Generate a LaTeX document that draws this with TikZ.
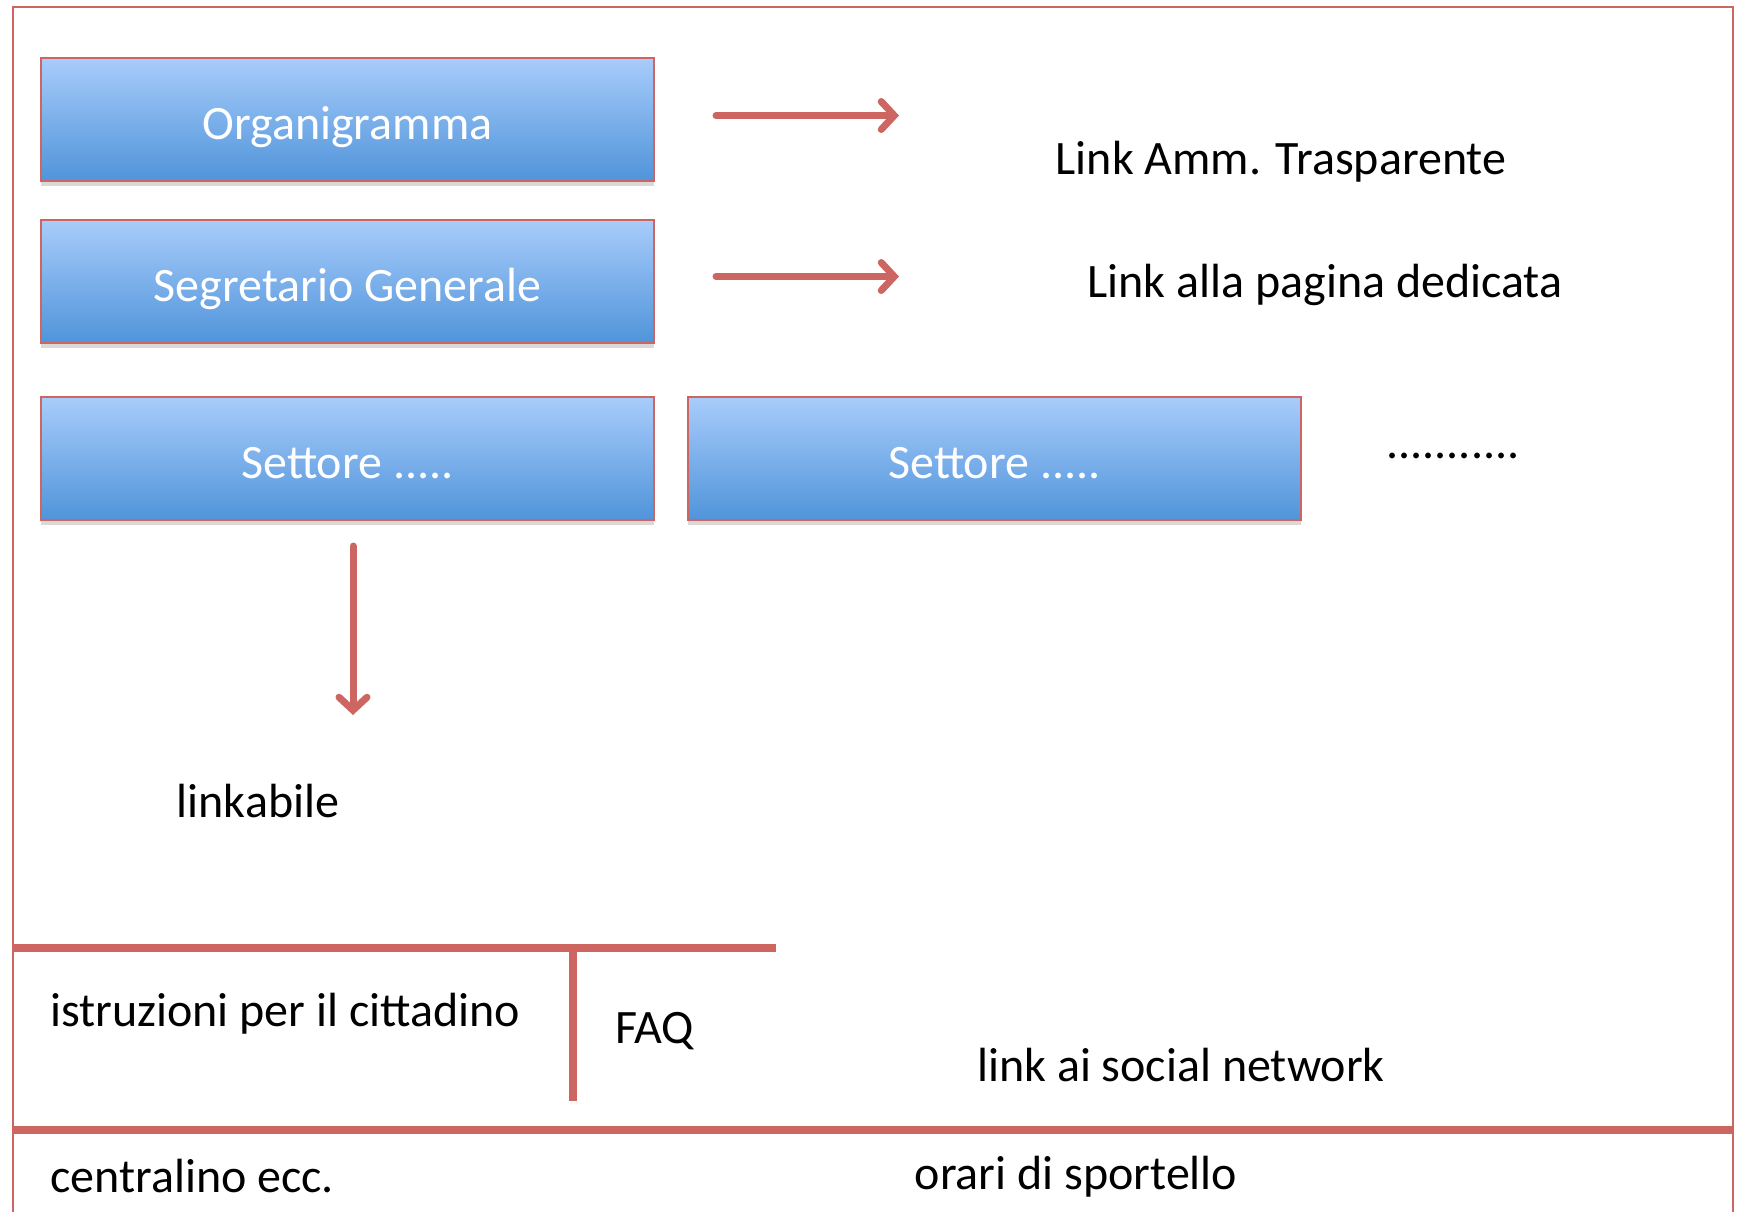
\documentclass[tikz,border=0pt]{standalone}
\usepackage{fontspec}
\setmainfont{Carlito}
\usetikzlibrary{arrows.meta, positioning, shadows}
\definecolor{linkred}{RGB}{205, 102, 96}
\definecolor{boxtop}{RGB}{168, 204, 251}
\definecolor{boxbottom}{RGB}{80, 148, 218}

\begin{document}
\begin{tikzpicture}[x=1pt, y=-1pt,
  menubox/.style={draw=linkred, line width=2pt, top color=boxtop, bottom color=boxbottom,
    minimum width=613pt, minimum height=123pt, inner sep=0pt, text=white,
    text height=40pt, text depth=0pt,
    font=\fontsize{48}{58}\selectfont,
    drop shadow={shadow xshift=0pt, shadow yshift=-5pt, opacity=0.3, fill=gray}},
  label/.style={inner sep=0pt, font=\fontsize{48}{58}\selectfont},
  redline/.style={draw=linkred, line width=7.5pt},
  linkarrow/.style={draw=linkred, line width=7pt, line cap=round,
    -{Straight Barb[length=13pt, width=28pt, line cap=round]}}]
  \useasboundingbox (0,0) rectangle (1739,1211);

  % outer frame (open at the bottom)
  \draw[linkred, line width=2.5pt] (13,1240) -- (13,7) -- (1733,7) -- (1733,1240);

  % menu boxes
  \node[menubox] (org) at (347.5,119.5) {Organigramma};
  \node[menubox, below=37pt of org] (segr) {Segretario Generale};
  \node[menubox, below=52pt of segr] (sett1) {Settore .....};
  \node[menubox, right=32pt of sett1] (sett2) {Settore .....};
  \node[label] (more) at (1453,456) {...........};

  % links
  \node[label] (trasp) at (1281,162) {Link Amm. Trasparente};
  \node[label] (pagina) at (1325,285) {Link alla pagina dedicata};
  \node[label] (linkab) at (258,801) {linkabile};
  \draw[linkarrow] ([xshift=61pt, yshift=4pt]org.east) -- ([xshift=244pt, yshift=4pt]org.east);
  \draw[linkarrow] ([xshift=61pt, yshift=5pt]segr.east) -- ([xshift=244pt, yshift=5pt]segr.east);
  \draw[linkarrow] ([xshift=5.5pt, yshift=-25pt]sett1.south) -- ([xshift=5.5pt, yshift=-194pt]sett1.south);

  % footer
  \coordinate (hl) at (13,948);
  \coordinate (hr) at (776,948);
  \coordinate (vt) at (573,948);
  \coordinate (vb) at (573,1101);
  \coordinate (bl) at (13,1130);
  \coordinate (br) at (1733,1130);
  \draw[redline] (hl) -- (hr);
  \draw[redline] (vt) -- (vb);
  \draw[redline] (bl) -- (br);
  \node[label, anchor=west] (istr) at (50,1014) {istruzioni per il cittadino};
  \node[label, anchor=west] (faq) at (615,1031) {FAQ};
  \node[label] (social) at (1181,1065) {link ai social network};
  \node[label, anchor=west] (centr) at (50,1176) {centralino ecc.};
  \node[label] (orari) at (1076,1177) {orari di sportello};
\end{tikzpicture}
\end{document}
